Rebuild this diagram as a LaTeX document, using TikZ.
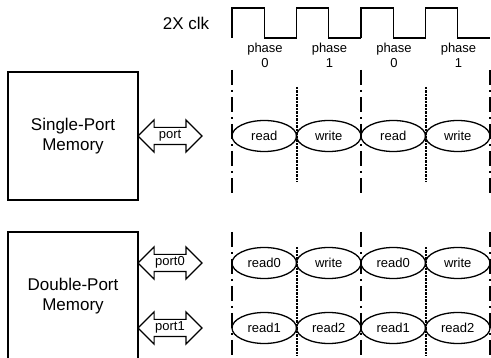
\documentclass[tikz,border=0pt]{standalone}
\usepackage{fontspec}
\setmainfont{Liberation Sans}
\usetikzlibrary{shapes.geometric,shapes.arrows}

\begin{document}
\begin{tikzpicture}[x=1pt,y=-1pt,
	mem/.style={draw,line width=1.3pt,minimum width=130pt,minimum height=128pt,align=center,font=\fontsize{17}{20}\selectfont},
	portarrow/.style={draw,double arrow,line width=1.2pt,minimum height=64pt,double arrow head extend=7.5pt,inner xsep=0pt,inner ysep=2pt,text height=9pt,text depth=3pt,font=\fontsize{13}{15}\selectfont},
	slot/.style={draw,ellipse,line width=1.3pt,minimum width=64.5pt,minimum height=31pt,inner sep=0pt,font=\fontsize{13}{15}\selectfont},
	phaselabel/.style={align=center,inner sep=0pt,font=\fontsize{13}{15}\selectfont},
	phaseline/.style={line width=2pt,dash pattern=on 15pt off 5pt on 2pt off 5pt},
	halfline/.style={line width=2pt,dash pattern=on 2.5pt off 1pt}]
			\clip (0,0) rectangle (491,358); % page size of the reference
			\def\half{32.25} % half a clock period
				% clock
				\node[font=\fontsize{17}{20}\selectfont] (clk) at (186,23) {2X clk};
				\foreach \i in {0,1,2,3}
					\draw[line width=1.2pt] (232+2*\half*\i,38) -- ++(0,-30) -- ++(\half,0) -- ++(0,30) -- ++(\half,0);
				\node[phaselabel] (ph0) at (265,55.5) {phase\\0};
				\node[phaselabel] (ph1) at (329.5,55.5) {phase\\1};
				\node[phaselabel] (ph2) at (394,55.5) {phase\\0};
				\node[phaselabel] (ph3) at (458.5,55.5) {phase\\1};
				% phase boundaries
				\draw[phaseline](232,70) -- (232,193);
				\draw[phaseline](361,70) -- (361,193);
				\draw[phaseline](490,70) -- (490,193);
				\draw[halfline](296.5,87) -- (296.5,182);
				\draw[halfline](425.5,87) -- (425.5,182);
				\draw[phaseline](232,232) -- (232,358);
				\draw[phaseline](361,232) -- (361,358);
				\draw[phaseline](490,232) -- (490,358);
				\draw[halfline](296.5,247) -- (296.5,356);
				\draw[halfline](425.5,247) -- (425.5,356);
				% single-port memory
				\node[mem] (spm) at (73,136) {Single-Port\\Memory};
				\node[portarrow] (port) at (170,136) {port};
				\node[slot] (s1) at (264.25,136) {read};
				\node[slot] (s2) at (328.75,136) {write};
				\node[slot] (s3) at (393.25,136) {read};
				\node[slot] (s4) at (457.75,136) {write};
				% double-port memory
				\node[mem] (dpm) at (73,296) {Double-Port\\Memory};
				\node[portarrow] (porta) at (170,263) {port0};
				\node[portarrow] (portb) at (170,328) {port1};
				\node[slot] (a1) at (264.25,263) {read0};
				\node[slot] (a2) at (328.75,263) {write};
				\node[slot] (a3) at (393.25,263) {read0};
				\node[slot] (a4) at (457.75,263) {write};
				\node[slot] (b1) at (264.25,328) {read1};
				\node[slot] (b2) at (328.75,328) {read2};
				\node[slot] (b3) at (393.25,328) {read1};
				\node[slot] (b4) at (457.75,328) {read2};
\end{tikzpicture}
\end{document}
